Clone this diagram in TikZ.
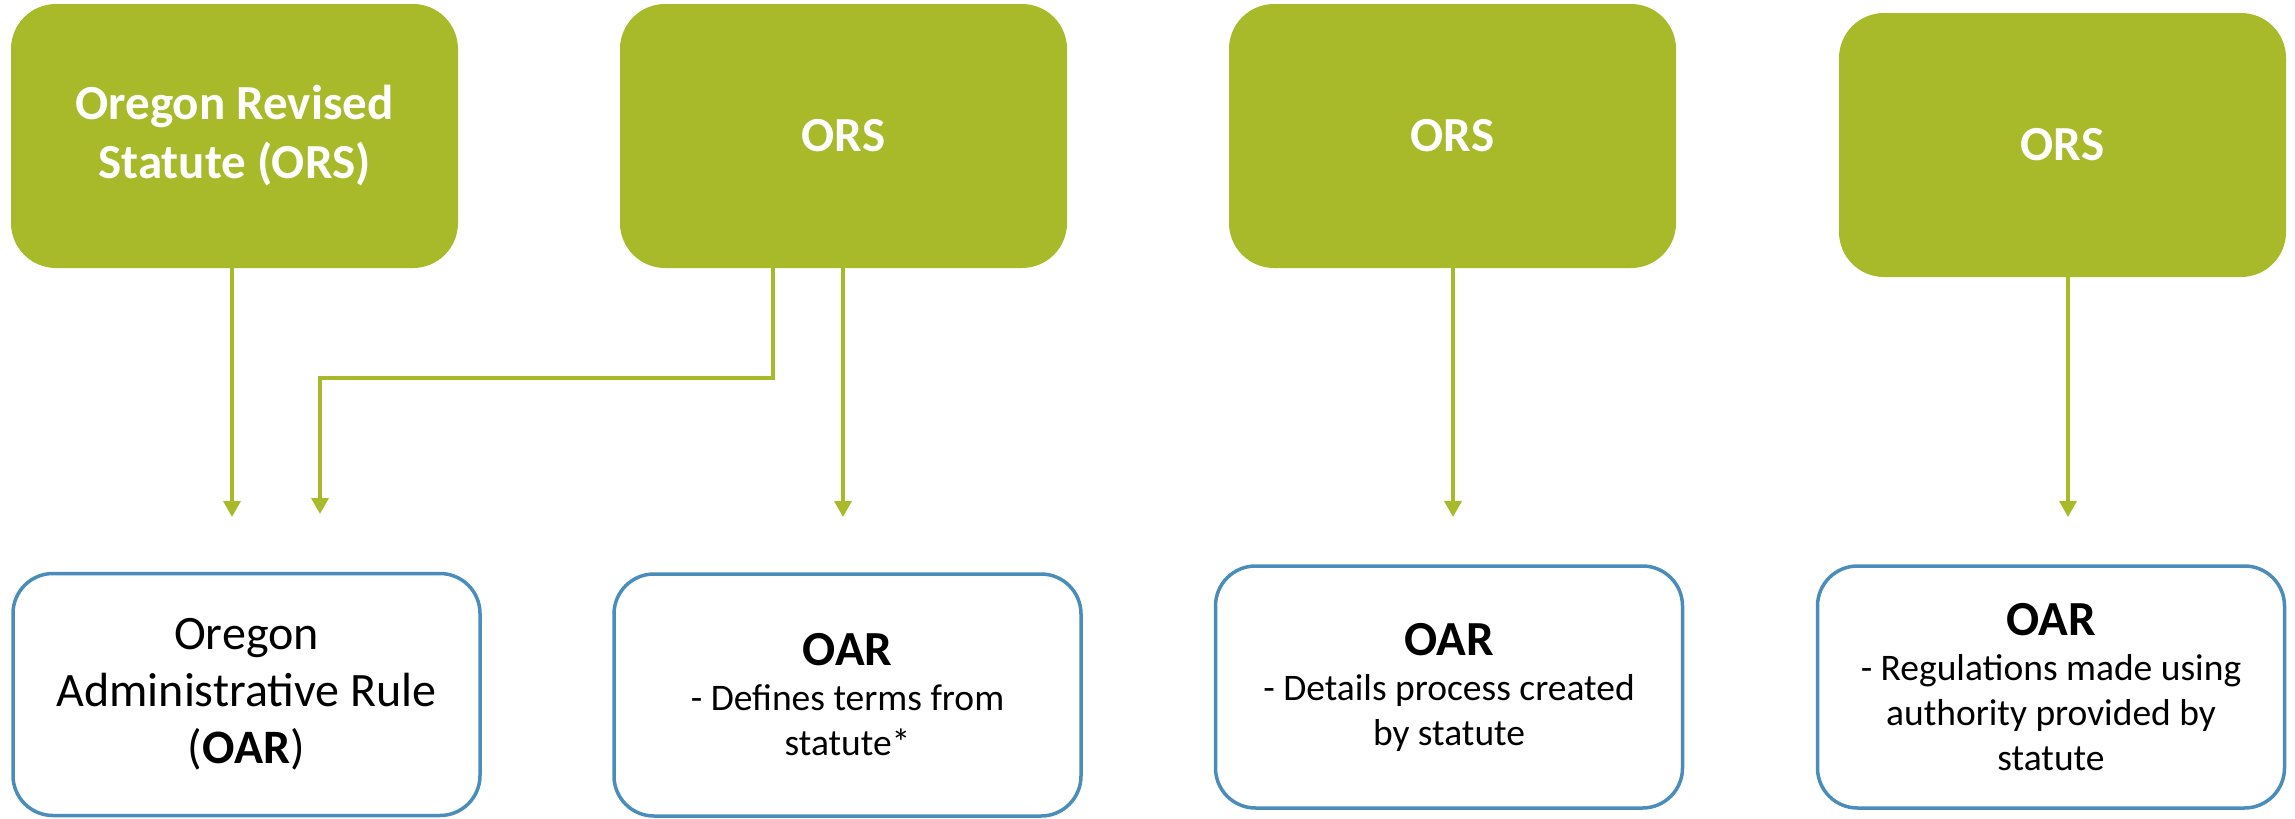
\documentclass[tikz,border=0pt]{standalone}
\usepackage{fontspec}
\setmainfont{Carlito}
\usetikzlibrary{arrows.meta}
\definecolor{statgreen}{RGB}{168,185,42}
\definecolor{ruleblue}{RGB}{74,141,186}
\begin{document}
\begin{tikzpicture}[x=1pt,y=-1pt,
  statute/.style={fill=statgreen, rounded corners=45pt, text=white, align=center,
    inner sep=0pt, minimum width=447pt, minimum height=264pt,
    font=\fontsize{49}{59}\selectfont\bfseries},
  rulebox/.style={draw=ruleblue, line width=3.5pt, fill=white, rounded corners=40pt,
    align=center, inner sep=0pt, minimum width=467pt, minimum height=242pt,
    font=\fontsize{37.5}{45}\selectfont},
  link/.style={draw=statgreen, line width=3.5pt},
  arr/.style={link, -{Triangle[width=17pt,length=16pt]}}]
\useasboundingbox (0,0) rectangle (2295,819);

% statute boxes
\node[statute] (g1) at (234.5,136) {Oregon Revised\\Statute (ORS)};
\node[statute] (g2) at (843.5,136) {ORS};
\node[statute] (g3) at (1452.5,136) {ORS};
\node[statute] (g4) at (2062.5,145) {ORS};

% rule boxes
\node[rulebox, font=\fontsize{48}{57}\selectfont] (b1) at (246.5,694.5)
  {Oregon\\Administrative Rule\\(\textbf{OAR})};
\node[rulebox] (b2) at (847.5,695)
  {{\fontsize{49}{45}\selectfont\bfseries OAR}\\- Defines terms from\\statute*};
\node[rulebox] (b3) at (1449,687)
  {{\fontsize{49}{45}\selectfont\bfseries OAR}\\- Details process created\\by statute};
\node[rulebox] (b4) at (2051,687)
  {{\fontsize{49}{45}\selectfont\bfseries OAR}\\- Regulations made using\\authority provided by\\statute};

% connector ends
\coordinate (t1) at (232,517);
\coordinate (bend) at (773,378);
\coordinate (t2) at (320,514);
\coordinate (t3) at (843,517);
\coordinate (t4) at (1453,517);
\coordinate (t5) at (2068,517);

% connectors
\draw[arr] (g1.south -| t1) -- (t1);
\draw[arr] (g2.south -| bend) -- (bend) -| (t2);
\draw[arr] (g2.south -| t3) -- (t3);
\draw[arr] (g3.south -| t4) -- (t4);
\draw[arr] (g4.south -| t5) -- (t5);
\end{tikzpicture}
\end{document}
